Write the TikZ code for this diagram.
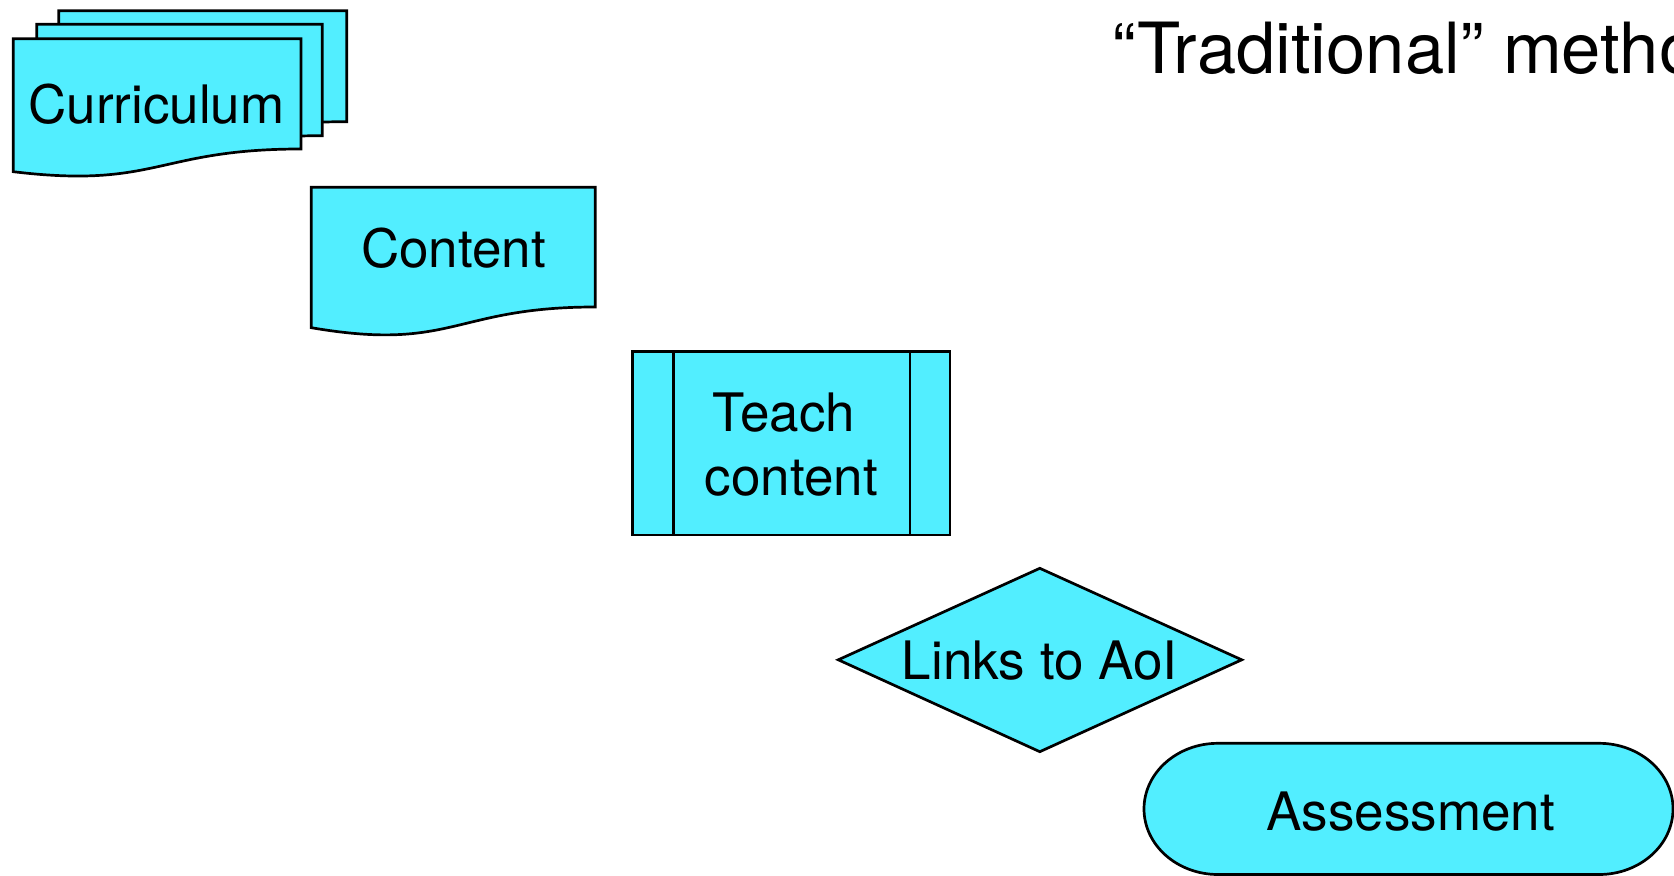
\documentclass[tikz,border=0pt]{standalone}
\usepackage{fontspec}
\setmainfont{TeX Gyre Heros}
\definecolor{flowfill}{RGB}{82,238,255}
\tikzset{
  shapeline/.style={draw=black, fill=flowfill, line width=1.35pt, line join=miter},
  flowtext/.style={inner sep=0pt, font=\fontsize{26.5}{31.7}\selectfont},
  titletext/.style={inner sep=0pt, font=\fontsize{35.3}{42}\selectfont},
}
% document sheet: left, right, top, right bottom, left bottom, wave control depth
\newcommand\docsheet[6]{%
  \path[shapeline] (#1,#3) -- (#2,#3) -- (#2,#4)
    .. controls ({(#1+#2)/2},#4) and ({(#1+#2)/2},#6) .. (#1,#5) -- cycle;}
\begin{document}
\begin{tikzpicture}[x=0.5pt, y=-0.5pt]
  \useasboundingbox (0,0) rectangle (1674,876);
  \clip (0,0) rectangle (1674,876);

  % title
  \node[titletext, anchor=base west] (title) at (1112.5,74) {“Traditional” method};

  % stacked documents
  \docsheet{58.7}{346.7}{10.7}{121.7}{144.4}{161.7}
  \docsheet{36.7}{322.3}{24.3}{135.7}{158.4}{175.7}
  \docsheet{13.3}{301}{38.7}{149}{171.7}{189}
  \node[flowtext, anchor=base] (curriculum) at (156.5,124) {Curriculum};

  % single document
  \docsheet{311.3}{595.3}{187.3}{307}{327.7}{352}
  \node[flowtext, anchor=base] (content) at (453.5,267.3) {Content};

  % predefined process
  \path[shapeline] (632.7,351.7) rectangle (950,535);
  \draw[line width=1.35pt] (673.3,351.7) -- (673.3,535);
  \draw[line width=1.35pt] (910,351.7) -- (910,535);
  \node[flowtext, anchor=base] (teach) at (791.3,431.7) {Teach\hspace*{0.278em}};
  \node[flowtext, anchor=base] (teach2) at (791.3,495) {content};

  % decision
  \path[shapeline] (838.3,659.8) -- (1039.8,568.3) -- (1241.7,659.8) -- (1039.8,751.7) -- cycle;
  \node[flowtext, anchor=base] (links) at (1039.5,679) {Links to AoI};

  % terminator
  \path[shapeline] (1218,743.3) -- (1599,743.3)
    arc[start angle=-90, end angle=90, x radius=74, y radius=65.6]
    -- (1218,874.5)
    arc[start angle=90, end angle=270, x radius=74, y radius=65.6] -- cycle;
  \node[flowtext, anchor=base] (assessment) at (1410.5,830) {Assessment};
\end{tikzpicture}
\end{document}
